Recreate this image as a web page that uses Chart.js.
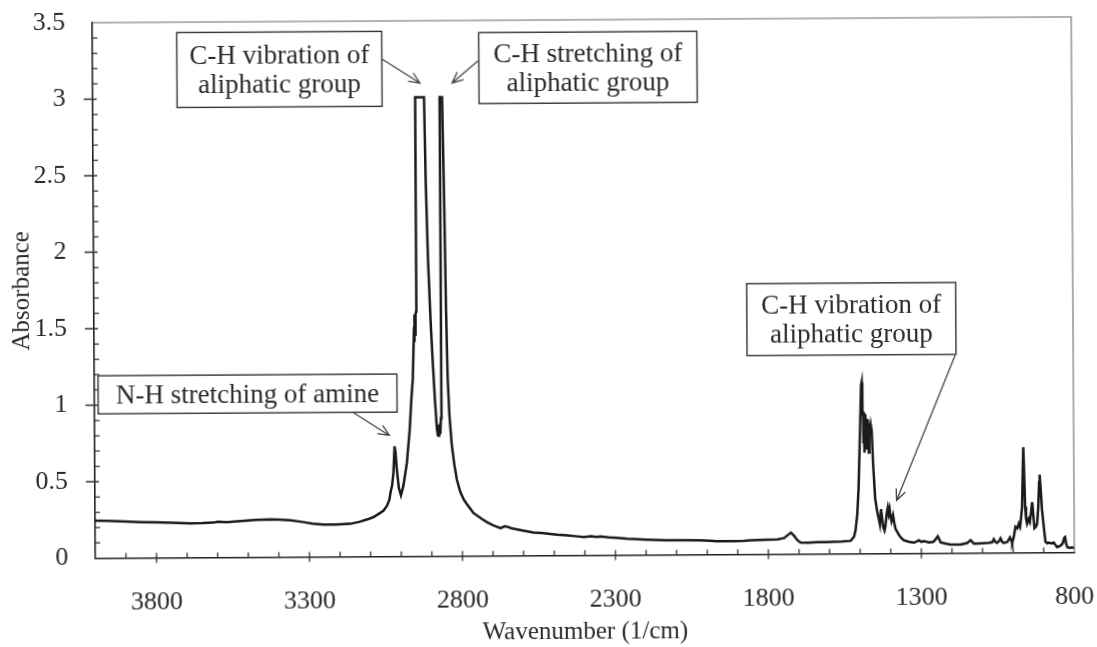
<!DOCTYPE html>
<html>
<head>
<meta charset="utf-8">
<script src="https://cdn.jsdelivr.net/npm/chart.js@4.4.0/dist/chart.umd.min.js"></script>
<style>
  html, body { margin: 0; padding: 0; background: #fff; overflow: hidden; }
  /* the printed figure sits very slightly turned on the page */
  #wrap { width: 1097px; height: 647px; transform: rotate(-0.34deg); }
</style>
</head>
<body>
<div id="wrap"><canvas id="ftir" width="1097" height="647"></canvas></div>
<script>
// FTIR spectrum, wavenumber (1/cm) against absorbance
const wavenumbers = [
  4000, 3960, 3900, 3850, 3800, 3750, 3689, 3650, 3613, 3600, 3570, 3525, 3480, 3427, 3400,
  3362, 3320, 3290, 3254, 3210, 3166, 3135, 3110, 3090, 3068, 3057, 3046, 3038, 3033, 3029,
  3024, 3020, 3017, 3013, 3007, 3000, 2992, 2980, 2970, 2964, 2959, 2956, 2954, 2953, 2952,
  2950, 2949, 2947, 2946, 2917, 2913, 2907, 2900, 2894, 2887, 2881, 2878, 2876, 2874, 2872,
  2870, 2868, 2866, 2858, 2853, 2849, 2845, 2840, 2833, 2825, 2817, 2806, 2795, 2785, 2774,
  2763, 2752, 2735, 2719, 2700, 2675, 2662, 2654, 2640, 2621, 2600, 2567, 2540, 2512, 2490,
  2457, 2430, 2403, 2380, 2360, 2349, 2320, 2294, 2260, 2240, 2200, 2130, 2080, 2021, 1990,
  1967, 1913, 1880, 1858, 1830, 1804, 1770, 1748, 1736, 1726, 1716, 1705, 1695, 1670, 1640,
  1610, 1587, 1560, 1531, 1520, 1515, 1509, 1504, 1498, 1494, 1492, 1490, 1488, 1487, 1486,
  1484, 1483, 1481, 1480, 1478, 1476, 1474, 1472, 1470, 1468, 1466, 1463, 1460, 1456, 1450,
  1444, 1438, 1435, 1431, 1427, 1424, 1420, 1417, 1412, 1409, 1406, 1403, 1400, 1397, 1392,
  1388, 1384, 1378, 1373, 1365, 1357, 1340, 1324, 1315, 1308, 1300, 1291, 1275, 1260, 1250,
  1246, 1240, 1237, 1220, 1204, 1172, 1150, 1139, 1132, 1128, 1110, 1095, 1080, 1068, 1063,
  1057, 1052, 1045, 1041, 1035, 1030, 1019, 1013, 1010, 1005, 1003, 998, 992, 986, 981,
  977, 975, 970, 967, 965, 963, 960, 957, 954, 949, 945, 941, 937, 934, 930,
  925, 921, 917, 914, 912, 909, 905, 901, 897, 894, 888, 883, 875, 867, 862,
  856, 850, 845, 838, 833, 830, 827, 823, 815, 808, 800
];
const absorbance = [
  0.245, 0.243, 0.238, 0.234, 0.232, 0.228, 0.224, 0.225, 0.228, 0.233, 0.230, 0.237, 0.243, 0.246, 0.245,
  0.240, 0.228, 0.218, 0.211, 0.211, 0.215, 0.228, 0.243, 0.258, 0.285, 0.300, 0.330, 0.370, 0.430, 0.460,
  0.550, 0.720, 0.680, 0.570, 0.450, 0.400, 0.460, 0.610, 0.830, 1.030, 1.160, 1.370, 1.500, 1.400, 1.580,
  1.450, 1.580, 1.600, 3.000, 3.000, 2.450, 1.940, 1.550, 1.290, 1.020, 0.830, 0.790, 0.860, 0.780, 0.820,
  0.800, 0.900, 3.000, 3.000, 2.300, 1.600, 1.160, 0.920, 0.730, 0.600, 0.500, 0.420, 0.370, 0.340, 0.310,
  0.280, 0.265, 0.240, 0.220, 0.200, 0.180, 0.192, 0.190, 0.180, 0.172, 0.163, 0.151, 0.147, 0.141, 0.136,
  0.130, 0.125, 0.120, 0.124, 0.120, 0.123, 0.116, 0.112, 0.106, 0.104, 0.100, 0.095, 0.094, 0.093, 0.090,
  0.086, 0.086, 0.088, 0.091, 0.093, 0.095, 0.096, 0.105, 0.125, 0.140, 0.120, 0.090, 0.075, 0.073, 0.076,
  0.077, 0.078, 0.080, 0.084, 0.110, 0.150, 0.250, 0.430, 0.820, 1.100, 1.120, 0.900, 0.930, 0.720, 0.920,
  0.660, 0.900, 0.720, 0.910, 0.680, 0.880, 0.740, 0.870, 0.660, 0.850, 0.780, 0.840, 0.800, 0.580, 0.360,
  0.280, 0.220, 0.190, 0.290, 0.220, 0.170, 0.150, 0.180, 0.270, 0.300, 0.260, 0.290, 0.240, 0.210, 0.250,
  0.200, 0.160, 0.140, 0.120, 0.100, 0.085, 0.075, 0.070, 0.078, 0.085, 0.075, 0.080, 0.070, 0.075, 0.100,
  0.110, 0.085, 0.070, 0.062, 0.056, 0.055, 0.065, 0.084, 0.070, 0.060, 0.062, 0.064, 0.065, 0.070, 0.090,
  0.070, 0.065, 0.080, 0.095, 0.070, 0.064, 0.070, 0.090, 0.100, 0.075, 0.065, 0.100, 0.170, 0.160, 0.190,
  0.170, 0.200, 0.300, 0.550, 0.690, 0.550, 0.300, 0.220, 0.190, 0.220, 0.200, 0.260, 0.330, 0.260, 0.160,
  0.170, 0.190, 0.300, 0.460, 0.510, 0.420, 0.280, 0.200, 0.120, 0.070, 0.060, 0.065, 0.060, 0.065, 0.050,
  0.035, 0.040, 0.045, 0.060, 0.095, 0.100, 0.060, 0.035, 0.030, 0.032, 0.030
];

const xTickLabels = [3800, 3300, 2800, 2300, 1800, 1300, 800];
const xMinorStep = 100;
const yTickLabels = [0, 0.5, 1, 1.5, 2, 2.5, 3, 3.5];
const yMinorPerMajor = 5;

// callout boxes: text lines, box edges [wn left, wn right, A top, A bottom], arrow [wn, A, wn, A]
const notes = [
  { lines: ['C-H vibration of', 'aliphatic group'],  box: [3724, 3054, 3.432, 2.942], arrow: [3054, 3.252, 2930, 3.093] },
  { lines: ['C-H stretching of', 'aliphatic group'], box: [2737, 2024, 3.420, 2.956], arrow: [2740, 3.235, 2825, 3.092] },
  { lines: ['N-H stretching of amine'],              box: [3988, 3011, 1.192, 0.943], arrow: [3155, 0.943, 3037, 0.791] },
  { lines: ['C-H vibration of', 'aliphatic group'],  box: [1866, 1183, 1.769, 1.299], arrow: [1186, 1.292, 1380, 0.346] }
];

const serif = "'Liberation Serif', 'Times New Roman', serif";
const inkColor = '#2a2a2a';

// keep the plot box fixed: no extra room for overhanging tick labels
const noOverhang = s => {
  s.paddingTop = 0; s.paddingBottom = 0; s.paddingLeft = 0; s.paddingRight = 0;
};

// frame on the top/right plus crossing major ticks and inner minor ticks
const frameTicks = {
  id: 'frameTicks',
  afterDraw(chart) {
    const { ctx, chartArea: a, scales: { x, y } } = chart;
    ctx.save();
    ctx.strokeStyle = '#6a6a6a';
    ctx.lineWidth = 1.1;
    ctx.beginPath();
    ctx.moveTo(a.left, a.top); ctx.lineTo(a.right, a.top); ctx.lineTo(a.right, a.bottom);
    ctx.stroke();

    ctx.strokeStyle = '#333';
    ctx.lineWidth = 1.3;
    ctx.beginPath();
    for (let v = x.min + xMinorStep; v < x.max; v += xMinorStep) {
      const px = x.getPixelForValue(v);
      const major = xTickLabels.includes(v);
      ctx.moveTo(px, a.bottom - 5);
      ctx.lineTo(px, a.bottom + (major ? 5 : 0));
    }
    const yStep = yTickLabels[1] - yTickLabels[0];
    const nMinor = (yTickLabels.length - 1) * yMinorPerMajor;
    for (let i = 1; i < nMinor; i++) {
      const py = y.getPixelForValue(i * yStep / yMinorPerMajor);
      const major = i % yMinorPerMajor === 0;
      ctx.moveTo(a.left - (major ? 9 : 0), py);
      ctx.lineTo(a.left + (major ? 4 : 5), py);
    }
    ctx.stroke();
    ctx.restore();
  }
};

// labelled boxes with open arrowheads
const callouts = {
  id: 'callouts',
  afterDraw(chart) {
    const { ctx, scales: { x, y } } = chart;
    ctx.save();
    notes.forEach(n => {
      const l = x.getPixelForValue(n.box[0]), r = x.getPixelForValue(n.box[1]);
      const t = y.getPixelForValue(n.box[2]), b = y.getPixelForValue(n.box[3]);
      ctx.fillStyle = '#fff';
      ctx.fillRect(l, t, r - l, b - t);
      ctx.strokeStyle = '#333';
      ctx.lineWidth = 1.4;
      ctx.strokeRect(l, t, r - l, b - t);

      ctx.fillStyle = inkColor;
      ctx.font = '27px ' + serif;
      ctx.textAlign = 'center';
      ctx.textBaseline = 'alphabetic';
      const cx = (l + r) / 2, cy = (t + b) / 2 + 8.5;
      const gap = 29;
      n.lines.forEach((s, i) => {
        ctx.fillText(s, cx, cy + (i - (n.lines.length - 1) / 2) * gap);
      });

      const x0 = x.getPixelForValue(n.arrow[0]), y0 = y.getPixelForValue(n.arrow[1]);
      const x1 = x.getPixelForValue(n.arrow[2]), y1 = y.getPixelForValue(n.arrow[3]);
      const ang = Math.atan2(y1 - y0, x1 - x0);
      const head = 12, spread = 0.42;
      ctx.strokeStyle = '#444';
      ctx.lineWidth = 1.3;
      ctx.beginPath();
      ctx.moveTo(x0, y0); ctx.lineTo(x1, y1);
      ctx.moveTo(x1 - head * Math.cos(ang - spread), y1 - head * Math.sin(ang - spread));
      ctx.lineTo(x1, y1);
      ctx.lineTo(x1 - head * Math.cos(ang + spread), y1 - head * Math.sin(ang + spread));
      ctx.stroke();
    });
    ctx.restore();
  }
};

const points = wavenumbers.map((w, i) => ({ x: w, y: absorbance[i] }));

new Chart(document.getElementById('ftir'), {
  type: 'scatter',
  data: {
    datasets: [{
      data: points,
      showLine: true,
      borderColor: '#1b1b1b',
      borderWidth: 2.5,
      pointRadius: 0,
      tension: 0,
      fill: false
    }]
  },
  options: {
    responsive: false,
    animation: false,
    devicePixelRatio: 1,
    layout: { padding: { top: 20, right: 24, left: 0, bottom: 0 } },
    plugins: { legend: { display: false }, tooltip: { enabled: false } },
    scales: {
      x: {
        type: 'linear',
        min: 800,
        max: 4000,
        reverse: true,
        afterBuildTicks: s => { s.ticks = xTickLabels.map(v => ({ value: v })); },
        afterFit: s => { s.height = 91.5; noOverhang(s); },
        grid: { display: false },
        border: { display: true, color: '#222', width: 1.6 },
        ticks: {
          autoSkip: false, maxRotation: 0, padding: 21, color: inkColor,
          font: { family: serif, size: 26 },
          callback: v => String(v)
        },
        title: {
          display: true, text: 'Wavenumber (1/cm)', color: inkColor,
          font: { family: serif, size: 25 }, padding: { top: 0, bottom: 0 }
        }
      },
      y: {
        min: 0,
        max: 3.5,
        afterBuildTicks: s => { s.ticks = yTickLabels.map(v => ({ value: v })); },
        afterFit: s => { s.width = 94; noOverhang(s); },
        grid: { display: false },
        border: { display: true, color: '#222', width: 1.6 },
        ticks: {
          padding: 19, color: inkColor,
          font: { family: serif, size: 26 },
          callback: v => String(v)
        },
        title: {
          display: true, text: 'Absorbance', color: inkColor,
          font: { family: serif, size: 25 }, padding: { top: 7, bottom: 0 }
        }
      }
    }
  },
  plugins: [frameTicks, callouts]
});
</script>
</body>
</html>
